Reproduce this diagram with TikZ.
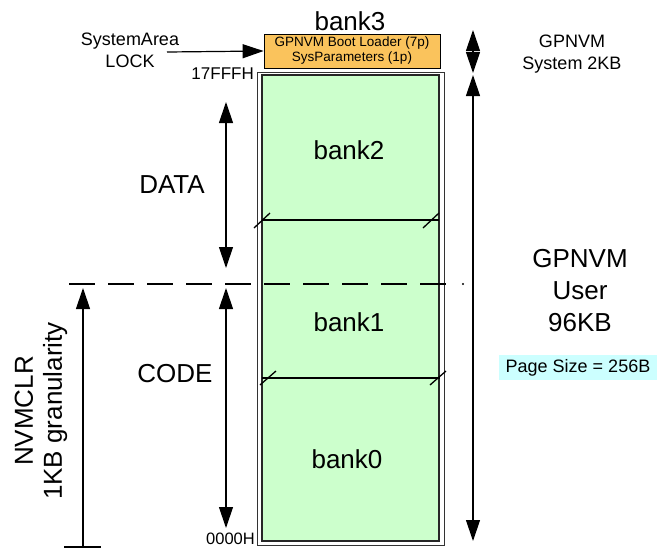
\documentclass[tikz,border=0pt]{standalone}
\usepackage{fontspec}
\setmainfont{Liberation Sans}
\usetikzlibrary{arrows.meta}
\definecolor{bankgreen}{HTML}{CCFFCC}
\definecolor{sysorange}{HTML}{FAC35C}
\definecolor{pagecyan}{HTML}{CCFFFF}
\newcommand{\fsz}[2]{\fontsize{#1}{#2}\selectfont}
\begin{document}
\begin{tikzpicture}[x=1pt,y=-1pt,
  lbl/.style={inner sep=0pt, anchor=base},
  arr/.style={line width=1.2pt, -{Triangle[length=21pt,width=14pt]}},
  darr/.style={line width=1.2pt, {Triangle[length=21pt,width=14pt]}-{Triangle[length=21pt,width=14pt]}},
  divider/.style={line width=1.3pt},
  big/.style={font=\fsz{26}{31}},
  mid/.style={font=\fsz{18}{22}},
]
\useasboundingbox (0,0) rectangle (657,550);
% memory column
\draw[line width=1pt, draw=black!80, fill=white] (257,72) rectangle (444,545);
\draw[line width=1.2pt, draw=black!85, fill=bankgreen] (262,75) rectangle (439,541);
% dividers
\draw[divider] (262,220) -- (439,220);
\draw[divider] (254,228) -- (270,213);
\draw[divider] (423,228) -- (439,213);
\draw[divider] (262,378) -- (440,378);
\draw[divider] (260,385) -- (276,371);
\draw[divider] (430,385) -- (446,371);
% system area box
\node[draw, line width=0.8pt, fill=sysorange, minimum width=176pt, minimum height=34pt, inner sep=0pt, align=center, font=\fsz{13.5}{15}] (boot) at (352,51) {GPNVM Boot Loader (7p)\\SysParameters (1p)};
% labels
\node[lbl, big] (bank3) at (350,30) {bank3};
\node[lbl, big] (bank2) at (349,159) {bank2};
\node[lbl, big] (bank1) at (349,331) {bank1};
\node[lbl, big] (bank0) at (347,468) {bank0};
\node[lbl, big] (data) at (172,193) {DATA};
\node[lbl, big] (code) at (175,382) {CODE};
\node[inner sep=0pt, align=center, mid] (syslock) at (130,50) {SystemArea\\LOCK};
\node[inner sep=0pt, anchor=base east, font=\fsz{17}{20}] (top) at (254,79) {17FFFH};
\node[inner sep=0pt, anchor=base east, font=\fsz{16.5}{20}] (bot) at (255,544) {0000H};
\node[inner sep=0pt, align=center, mid] (gsys) at (572,54) {GPNVM\\System 2KB};
\node[inner sep=0pt, align=center, font=\fsz{26}{32}] (guser) at (580,291) {GPNVM\\User\\96KB};
\node[fill=pagecyan, minimum width=158pt, minimum height=25pt, inner sep=0pt, mid] (page) at (578,367.5) {Page Size = 256B};
\node[inner sep=0pt, align=center, rotate=90, font=\fsz{26}{29}] (nvm) at (41,411) {NVMCLR\\1KB granularity};
% arrows
\coordinate (sysA) at (167,52);
\draw[arr] (sysA) -- (boot.west);
\coordinate (dT) at (226,102);
\coordinate (dB) at (226,268);
\draw[darr] (dT) -- (dB);
\coordinate (cT) at (226,288);
\coordinate (cB) at (226,528);
\draw[darr] (cT) -- (cB);
\coordinate (sT) at (473,30);
\coordinate (sB) at (473,73);
\draw[darr] (sT) -- (sB);
\coordinate (uT) at (473,75);
\coordinate (uB) at (473,541);
\draw[darr] (uT) -- (uB);
\coordinate (nB) at (83,547);
\coordinate (nT) at (83,288);
\draw[arr] (nB) -- (nT);
\coordinate (nL) at (64,547);
\coordinate (nR) at (101,547);
\draw[line width=1.2pt] (nL) -- (nR);
% boundary dashed line
\coordinate (dashL) at (69,284);
\coordinate (dashR) at (448,284);
\draw[line width=2pt, dash pattern=on 26pt off 13pt] (dashL) -- (dashR);
\fill (463,284) circle (1.1pt);
\end{tikzpicture}
\end{document}
